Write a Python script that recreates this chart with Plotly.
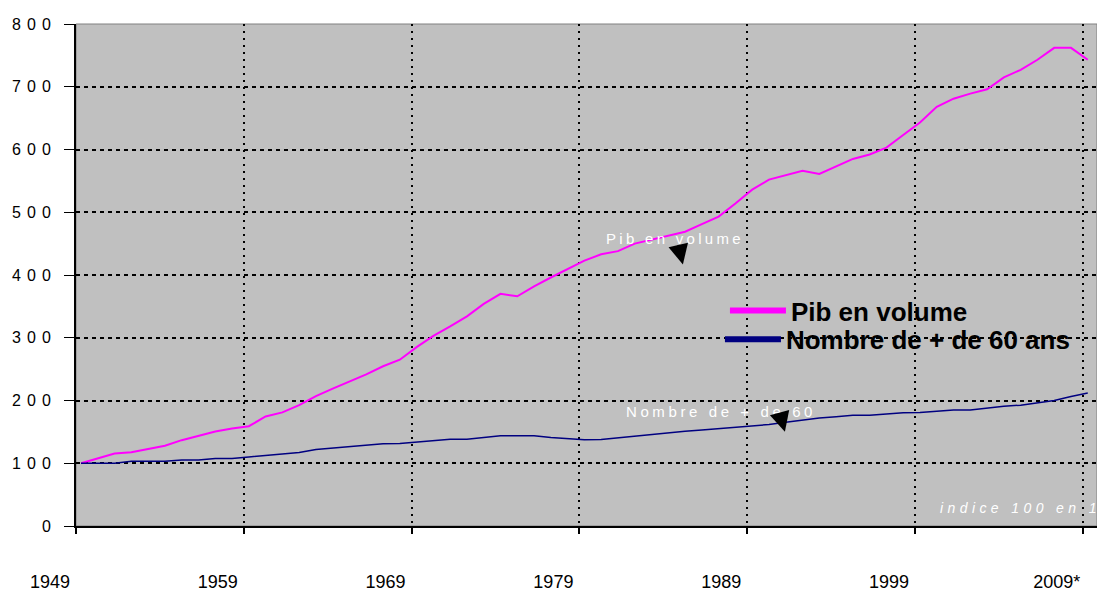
import plotly.graph_objects as go

years = list(range(1949, 2010))
pib_volume = [100, 108, 115.6, 117.7, 122.5, 128, 136.8, 144, 150.6, 155.4,
              159, 174.5, 181, 192.5, 207, 219, 230.5, 241.6, 254.6, 265,
              285, 303, 318, 334, 354, 370, 366, 382, 396, 409,
              423, 433, 438, 450, 456, 462, 469, 481, 493, 514,
              536, 552, 559, 566, 561, 573, 585, 592, 603, 623,
              643, 668, 681, 689, 696, 715, 727, 743, 762, 762, 743]
plus_60 = [100, 100, 100, 103, 103, 103, 105, 105, 107.6, 107.6,
           110, 112.5, 115, 117, 122, 124, 126.6, 128.7, 131, 131.5,
           133.5, 136, 138.4, 138.4, 141, 143.8, 143.8, 143.8, 141, 139,
           137.5, 137.8, 140.6, 143, 146, 148.7, 150.8, 153, 155, 157.3,
           159.5, 161.7, 165.4, 169, 172, 174, 176.3, 176.5, 179, 180.5,
           181, 183, 185, 185, 188, 191, 192.5, 196, 200, 206.5, 212]
x_tick_years = [1949, 1959, 1969, 1979, 1989, 1999, 2009]
x_tick_text = ["1949", "1959", "1969", "1979", "1989", "1999", "2009*"]
y_tick_vals = [0, 100, 200, 300, 400, 500, 600, 700, 800]

FONT = "Liberation Sans, Arial, sans-serif"
PINK = "#FF00FF"
NAVY = "#000080"
shift = 0.3  # Excel category boundary offset

fig = go.Figure()
fig.add_trace(go.Scatter(x=years, y=pib_volume, mode="lines",
                         line=dict(color=PINK, width=2), showlegend=False))
fig.add_trace(go.Scatter(x=years, y=plus_60, mode="lines",
                         line=dict(color=NAVY, width=1.5), showlegend=False))
# legend entries
fig.add_trace(go.Scatter(x=[None], y=[None], mode="lines", name="Pib en volume",
                         line=dict(color=PINK, width=6), legend="legend"))
fig.add_trace(go.Scatter(x=[None], y=[None], mode="lines", name="Nombre de + de 60 ans",
                         line=dict(color=NAVY, width=6), legend="legend2"))

legend_font = dict(family=FONT, size=26, color="black", weight="bold")
fig.update_layout(
    width=1097, height=592,
    margin=dict(l=76, r=0, t=24, b=66),
    paper_bgcolor="white", plot_bgcolor="#C0C0C0",
    font=dict(family=FONT, color="black"),
    legend=dict(x=0.6356, y=0.429, xanchor="left", yanchor="middle", itemwidth=56,
                bgcolor="rgba(0,0,0,0)", font=legend_font),
    legend2=dict(x=0.6307, y=0.372, xanchor="left", yanchor="middle", itemwidth=56,
                 bgcolor="rgba(0,0,0,0)", font=legend_font),
    xaxis=dict(range=[years[0] - shift, years[0] - shift + 60.85],
               tickvals=[y - shift for y in x_tick_years], ticktext=x_tick_text,
               ticks="outside", ticklen=6, tickwidth=2, tickcolor="black",
               showline=True, linecolor="black", linewidth=2,
               showgrid=True, gridcolor="black", gridwidth=2, griddash="2px,5px",
               zeroline=False, tickfont=dict(size=18, family=FONT),
               ticklabelshift=-26, ticklabelstandoff=32),
    yaxis=dict(range=[0, 800], tickvals=y_tick_vals,
               ticktext=["<span style='letter-spacing:6px'>%d</span>" % v for v in y_tick_vals],
               ticks="outside", ticklen=10, tickwidth=1, tickcolor="black",
               showline=True, linecolor="black", linewidth=2,
               showgrid=True, gridcolor="black", gridwidth=1.5, griddash="4px,4px",
               zeroline=False, tickfont=dict(size=16, family=FONT),
               ticklabelstandoff=4),
    shapes=[dict(type="rect", xref="x domain", yref="y domain", x0=0, x1=1, y0=0, y1=1,
                 line=dict(color="#808080", width=1), layer="below")],
)

fig.add_annotation(x=1984.37, y=457.7, text="<span style='letter-spacing:3.3px'>Pib en volume</span>",
                   showarrow=False, font=dict(size=15, color="white", family=FONT))
fig.add_annotation(x=1987.16, y=181.8, text="<span style='letter-spacing:3.6px'>Nombre de + de 60</span>",
                   showarrow=False, font=dict(size=15, color="white", family=FONT))
fig.add_annotation(x=2000.1, y=28.6, xanchor="left",
                   text="<i><span style='letter-spacing:4.4px'>indice 100 en 1949</span></i>",
                   showarrow=False, font=dict(size=14, color="white", family=FONT))
fig.add_annotation(x=1984.87, y=416.8, text="", showarrow=True, ax=-5, ay=-21,
                   arrowhead=2, arrowsize=2, arrowwidth=2, arrowcolor="black")
fig.add_annotation(x=1990.95, y=150, text="", showarrow=True, ax=-5, ay=-18,
                   arrowhead=2, arrowsize=2, arrowwidth=2, arrowcolor="black")

fig.write_html("out.html", config={"displayModeBar": False},
               post_script="document.body.style.margin='0';document.body.style.overflow='hidden';")
